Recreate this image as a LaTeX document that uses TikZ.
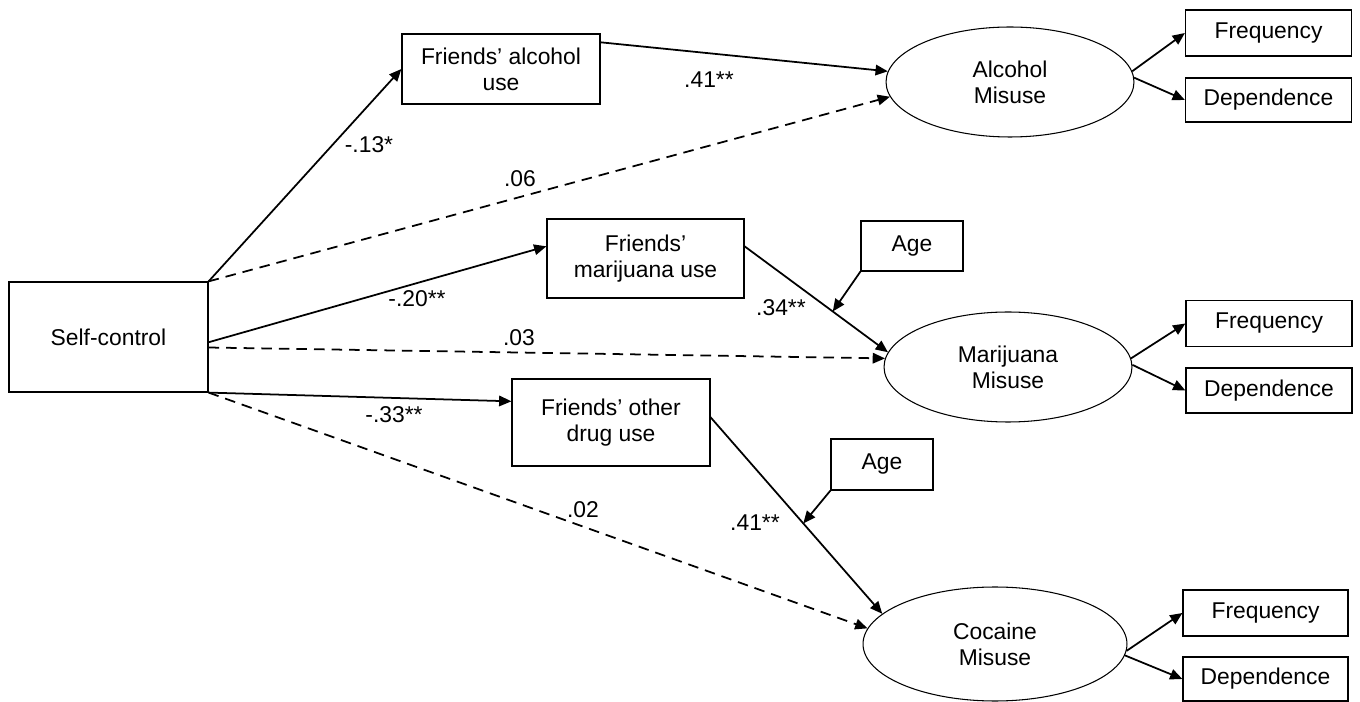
\documentclass[tikz,border=0pt]{standalone}
\usepackage{fontspec}
\setmainfont{Liberation Sans}
\usetikzlibrary{arrows.meta, shapes.geometric}

\begin{document}
\begin{tikzpicture}[x=0.02cm, y=-0.02cm,
  font=\fontsize{13}{14.7}\selectfont,
  obs/.style={draw, line width=0.7pt, rectangle, align=center, inner sep=2pt},
  lat/.style={draw, line width=0.6pt, ellipse, align=center, inner sep=0pt},
  sig/.style={-{Triangle[length=7pt, width=6pt]}, line width=1pt},
  nsig/.style={sig, dash pattern=on 6pt off 4pt},
  coef/.style={inner sep=0pt}]
  \useasboundingbox (0,0) rectangle (1360,702);

  % Predictor
  \node[obs, minimum width=3.98cm, minimum height=2.2cm] (self) at (108.5,337) {Self-control};

  % Friends' use
  \node[obs, minimum width=3.96cm, minimum height=1.4cm] (fa) at (501,69) {Friends' alcohol\\use};
  \node[obs, minimum width=3.94cm, minimum height=1.58cm] (fm) at (645.5,258.5) {Friends'\\marijuana use};
  \node[obs, minimum width=3.96cm, minimum height=1.74cm] (fo) at (611,422.5) {Friends' other\\drug use};

  % Age
  \node[obs, minimum width=2.04cm, minimum height=1cm] (age1) at (912,246) {Age};
  \node[obs, minimum width=2.04cm, minimum height=1.02cm] (age2) at (882,464.5) {Age};

  % Misuse factors
  \node[lat, minimum width=4.96cm, minimum height=2.2cm] (am) at (1010,82) {Alcohol\\Misuse};
  \node[lat, minimum width=4.96cm, minimum height=2.2cm] (mm) at (1008,367) {Marijuana\\Misuse};
  \node[lat, minimum width=5.28cm, minimum height=2.28cm] (cm) at (995,644) {Cocaine\\Misuse};

  % Indicators
  \node[obs, minimum width=3.32cm, minimum height=0.92cm] (fq1) at (1268.5,33) {Frequency};
  \node[obs, minimum width=3.32cm, minimum height=0.88cm] (dp1) at (1268.5,100) {Dependence};
  \node[obs, minimum width=3.32cm, minimum height=0.92cm] (fq2) at (1269,323.5) {Frequency};
  \node[obs, minimum width=3.32cm, minimum height=0.9cm] (dp2) at (1269,390.5) {Dependence};
  \node[obs, minimum width=3.3cm, minimum height=0.92cm] (fq3) at (1265.5,613) {Frequency};
  \node[obs, minimum width=3.3cm, minimum height=0.88cm] (dp3) at (1265.5,679) {Dependence};

  % Alcohol paths
  \draw[sig] (self.north east) -- (fa.west);
  \draw[nsig] (self.north east) -- (am.187);
  \draw[sig] (fa.15) -- (am.175);
  \node[coef] (c1) at (369,145) {-.13*};
  \node[coef] (c2) at (520,179) {.06};
  \node[coef] (c3) at (709,80) {.41**};

  % Marijuana paths
  \draw[sig] (self.-3) -- (fm.173);
  \draw[nsig] (self.-6) -- (mm.176);
  \draw[sig] (fm.7) -- coordinate[pos=0.615] (m1) (mm.173.5);
  \draw[sig] (age1.south west) -- (m1);
  \node[coef] (c4) at (417,299) {-.20**};
  \node[coef] (c5) at (519,338) {.03};
  \node[coef] (c6) at (781,308) {.34**};

  % Other drug paths
  \draw[sig] (self.south east) -- (fo.168);
  \draw[nsig] (self.south east) -- (cm.173);
  \draw[sig] (fo.3) -- coordinate[pos=0.54] (m2) (cm.165);
  \draw[sig] (age2.south west) -- (m2);
  \node[coef] (c7) at (394,415) {-.33**};
  \node[coef] (c8) at (583,510) {.02};
  \node[coef] (c9) at (755,523) {.41**};

  % Measurement
  \draw[sig] (am.5) -- (fq1.west);
  \draw[sig] (am.2) -- (dp1.west);
  \draw[sig] (mm.4) -- (fq2.west);
  \draw[sig] (mm.1) -- (dp2.west);
  \draw[sig] (cm.-3) -- (fq3.west);
  \draw[sig] (cm.-5) -- (dp3.west);
\end{tikzpicture}
\end{document}
